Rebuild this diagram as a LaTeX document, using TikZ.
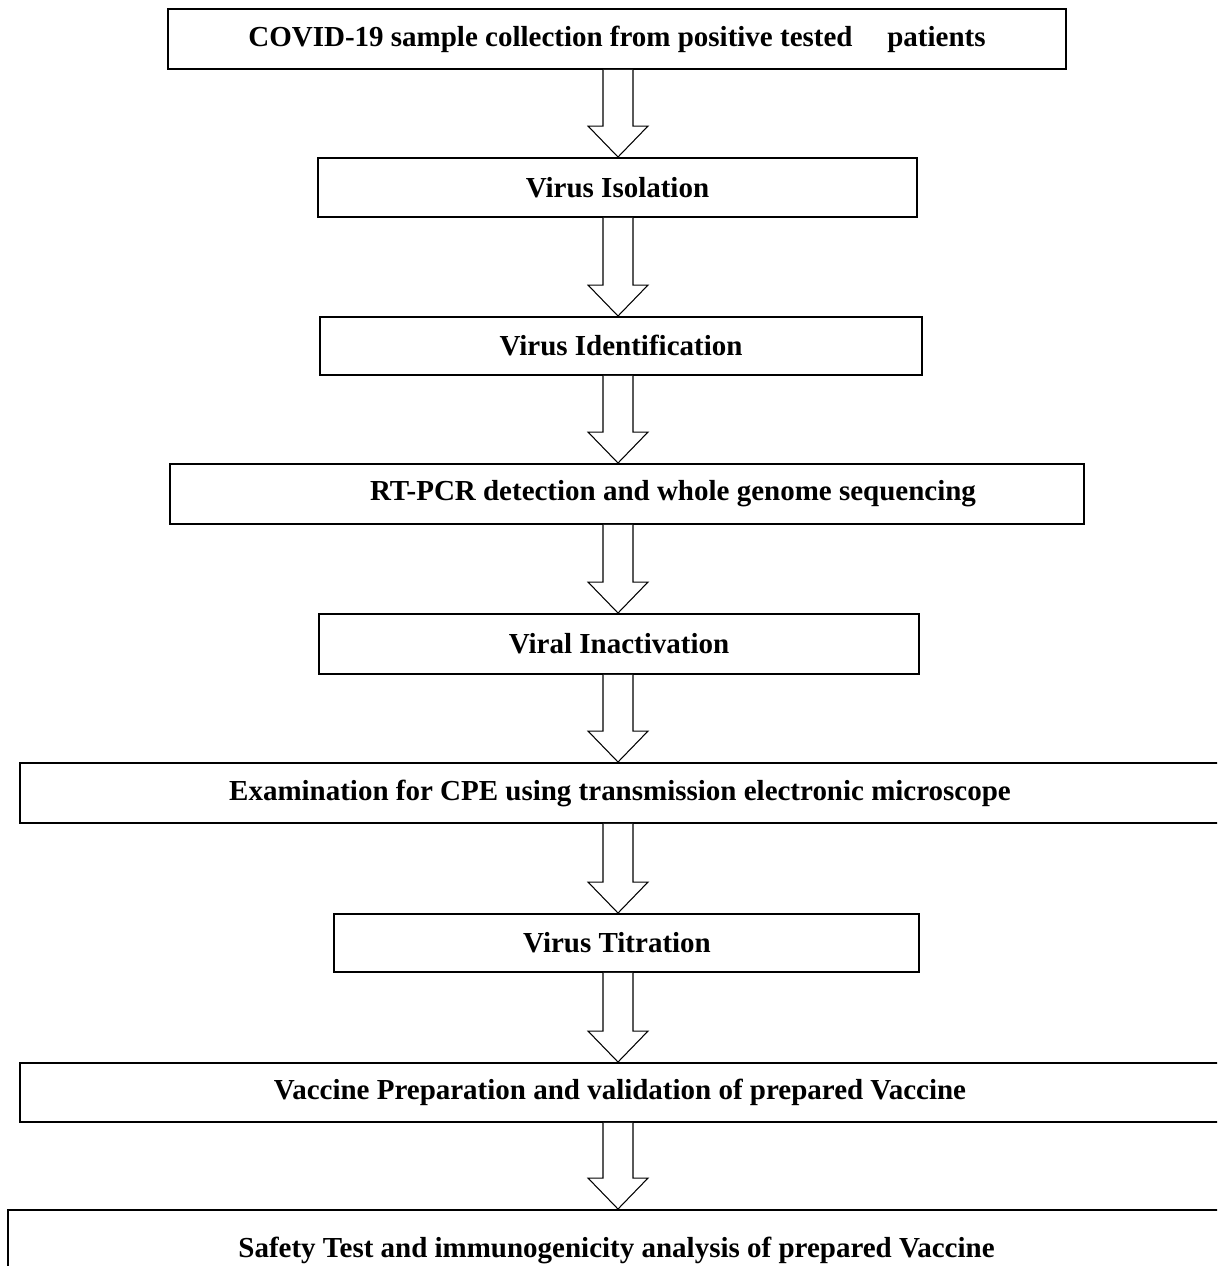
\documentclass[tikz,border=0pt]{standalone}
\usepackage{fontspec}
\setmainfont{Liberation Serif}
\usetikzlibrary{calc}

\begin{document}
\begin{tikzpicture}[
    x=0.02cm, y=-0.02cm,
    stage/.style={draw=black, line width=1.1pt, minimum height=1.2cm,
      inner sep=0pt, font=\fontsize{16.5pt}{19pt}\selectfont\bfseries, align=center},
    hollow/.style={draw=black, line width=0.6pt, fill=white, line join=miter},
  ]
    \clip (0,0) rectangle (1217,1266);
    \node[stage, minimum width=17.96cm] (collect) at (617, 39) {COVID-19 sample collection from positive tested\hspace{1.2em}patients};
    \node[stage, minimum width=11.98cm, minimum height=1.18cm] (isolate) at (617.5, 187.5) {Virus Isolation};
    \node[stage, minimum width=12.04cm, minimum height=1.16cm] (identify) at (621, 346) {Virus Identification};
    \node[stage, minimum width=18.28cm] (rtpcr) at (627, 494) {\hspace*{1.84cm}RT-PCR detection and whole genome sequencing};
    \node[stage, minimum width=12cm] (inactivate) at (619, 644) {Viral Inactivation};
    \node[stage, minimum width=24cm] (examine) at (620, 793) {Examination for CPE using transmission electronic microscope};
    \node[stage, minimum width=11.7cm, minimum height=1.16cm] (titrate) at (626.5, 943) {Virus Titration\hspace*{0.38cm}};
    \node[stage, minimum width=24cm, minimum height=1.18cm] (prepare) at (620, 1092.5) {Vaccine Preparation and validation of prepared Vaccine};
    \node[stage, minimum width=24.34cm, minimum height=1.6cm] (safety) at (616.5, 1250) {Safety Test and immunogenicity analysis of prepared Vaccine};

    % hollow block arrows between the stages
    \coordinate (axis) at (618, 0);
    \foreach \from/\to in {collect/isolate, isolate/identify, identify/rtpcr, rtpcr/inactivate,
        inactivate/examine, examine/titrate, titrate/prepare, prepare/safety}
      \draw[hollow] ($(axis |- \from.south)+(-15,0)$) -- ($(axis |- \to.north)+(-15,-31)$)
        -- ($(axis |- \to.north)+(-30,-31)$) -- (axis |- \to.north)
        -- ($(axis |- \to.north)+(30,-31)$) -- ($(axis |- \to.north)+(15,-31)$)
        -- ($(axis |- \from.south)+(15,0)$);
\end{tikzpicture}
\end{document}
